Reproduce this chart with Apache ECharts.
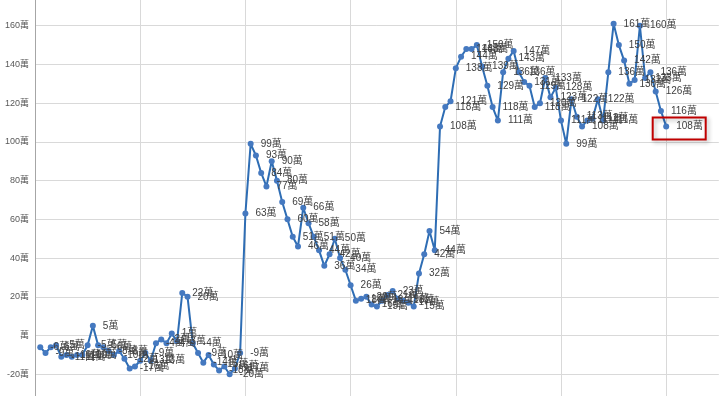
<!DOCTYPE html>
<html>
<head>
<meta charset="utf-8">
<script src="https://cdn.jsdelivr.net/npm/echarts@6/dist/echarts.min.js"></script>
<style>
html,body{margin:0;padding:0;background:#fff;width:720px;height:396px;overflow:hidden;position:relative;}
#c{position:absolute;left:0;top:-13px;width:720px;height:426px;}
</style>
</head>
<body>
<div id="c"></div>
<script>
// values (unit: 萬)
var values1 = [-6,-9,-6,-5,-11,-10,-11,-10,-10,-5,5,-5,-6,-8,-10,-8,-12,-17,-16,-13,
               -9,-13,-4,-2,-4,1,-3,22,20,-4,-9,-14,-10,-15,-18,-16,-20,-17,-9];
var values2 = [63,99,93,84,77,90,80,69,60,51,46,66,58,51,44,36,42,50,40,34,
               26,18,19,20,16,15,18,21,23,19,18,17,15,32,42,54,44];
var values3 = [108,118,121,138,144,148,148,150,139,129,118,111,136,143,147,136,131,129,118,120,
               133,123,128,111,99,122,113,108,111,112,122,111,136,161,150,142,130,132,160,133,
               136,126,116,108];
var unit = '萬';
var yTicks = {min: -40, max: 180, interval: 20};
var totalSlots = 130;

var values = values1.concat(values2, values3);
var categories = [];
for (var i = 0; i <= totalSlots; i++) categories.push(String(i));
var seriesData = [null].concat(values);

var chart = echarts.init(document.getElementById('c'), null, {renderer: 'canvas'});
var font = '"Liberation Sans","Noto Sans CJK TC",sans-serif';
chart.setOption({
  animation: false,
  backgroundColor: '#ffffff',
  grid: {left: 35, right: 1.2, top: 0, bottom: 0, containLabel: false},
  xAxis: {
    type: 'category',
    data: categories,
    boundaryGap: false,
    axisLine: {show: false},
    axisTick: {show: false},
    axisLabel: {show: false},
    splitLine: {show: true, interval: 19, lineStyle: {color: '#d9d9d9', width: 1}}
  },
  yAxis: {
    type: 'value',
    min: yTicks.min, max: yTicks.max, interval: yTicks.interval,
    axisLine: {show: true, lineStyle: {color: '#a6a6a6', width: 1}},
    axisTick: {show: false},
    splitLine: {show: true, lineStyle: {color: '#d9d9d9', width: 1}},
    axisLabel: {
      color: '#595959', fontSize: 9, fontFamily: font, margin: 6,
      showMinLabel: false, showMaxLabel: false,
      formatter: function (v) { return v === 0 ? unit : v + unit; }
    }
  },
  series: [{
    type: 'line',
    data: seriesData,
    connectNulls: false,
    symbol: 'circle',
    symbolSize: 6,
    showAllSymbol: true,
    lineStyle: {color: '#2e6db4', width: 2},
    itemStyle: {color: '#4579c0'},
    label: {
      show: true, position: 'right', distance: 7,
      color: '#404040', fontSize: 10, fontFamily: font,
      formatter: function (p) { return p.value + unit; }
    },
    labelLayout: {hideOverlap: false}
  }]
});

var lastIdx = values.length;
var pt = chart.convertToPixel({xAxisIndex: 0, yAxisIndex: 0}, [lastIdx, values[values.length - 1]]);
chart.setOption({
  graphic: [{
    type: 'rect',
    shape: {x: pt[0] - 13.5, y: pt[1] - 9, width: 53, height: 22},
    style: {fill: 'rgba(0,0,0,0)', stroke: '#c00000', lineWidth: 2,
            shadowBlur: 4, shadowOffsetX: 2, shadowOffsetY: 2, shadowColor: 'rgba(0,0,0,0.3)'},
    z: 100
  }]
});
</script>
</body>
</html>
